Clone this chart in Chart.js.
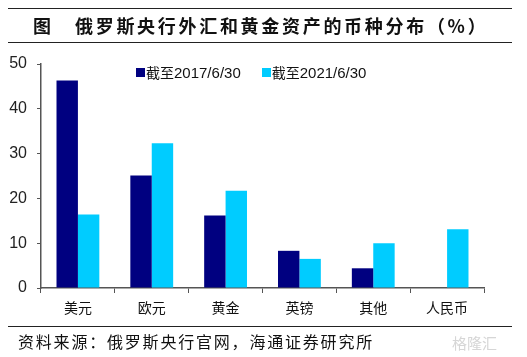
<!DOCTYPE html>
<html><head><meta charset="utf-8">
<script src="https://cdn.jsdelivr.net/npm/chart.js@4/dist/chart.umd.min.js"></script>
<style>
html,body{margin:0;padding:0;background:#fff;}
#wrap{position:relative;width:527px;height:357px;overflow:hidden;font-family:"Noto Sans CJK SC","Liberation Sans",sans-serif;}
canvas{position:absolute;left:0;top:0;}
.hl{position:absolute;left:8px;width:504px;height:0;border-top:1.5px solid #222;}
#t1{position:absolute;left:33px;top:12px;font-size:18px;font-weight:bold;color:#111;line-height:26px;}
#t2{position:absolute;left:75px;top:12px;font-size:18px;font-weight:bold;color:#111;letter-spacing:2.7px;line-height:26px;white-space:nowrap;}
#src{position:absolute;left:18px;top:330px;font-size:16px;color:#111;letter-spacing:1.8px;line-height:22px;white-space:nowrap;}
#wm{position:absolute;left:452px;top:332px;font-size:15px;color:#d6d6d6;white-space:nowrap;}
#legend{position:absolute;left:136px;top:63px;font-size:15px;color:#111;white-space:nowrap;line-height:18px;}
#legend span.it{display:inline-block;margin-right:21px;}
#legend i{display:inline-block;width:9px;height:9px;margin-right:1px;vertical-align:1px;}
#legend .cn{font-family:"Noto Sans CJK SC";font-size:14px;}
#legend .num{font-family:"Liberation Sans";}
</style></head>
<body>
<div id="wrap">
<canvas id="c" width="527" height="357"></canvas>
<div class="hl" style="top:8px"></div>
<div class="hl" style="top:42px"></div>
<div id="t1">图</div>
<div id="t2">俄罗斯央行外汇和黄金资产的币种分布（%）</div>
<div id="legend"></div>
<div class="hl" style="top:326px"></div>
<div id="src">资料来源：俄罗斯央行官网，海通证券研究所</div>
<div id="wm">格隆汇</div>
</div>
<script>
const categories = ["美元","欧元","黄金","英镑","其他","人民币"];
const series2017 = [46.3, 25.1, 16.2, 8.3, 4.4, 0];
const series2021 = [16.4, 32.3, 21.7, 6.5, 10.0, 13.1];
const seriesLabels = ["截至2017/6/30","截至2021/6/30"];
const seriesColors = ["#000080","#00CCFF"];
const yTicks = [0,10,20,30,40,50];

// HTML legend from dataset labels
const lg = document.getElementById('legend');
seriesLabels.forEach((lab,i)=>{
  const m = lab.match(/^(\D+)(.*)$/);
  const s = document.createElement('span'); s.className='it';
  s.innerHTML = '<i style="background:'+seriesColors[i]+'"></i><span class="cn">'+m[1]+'</span><span class="num">'+m[2]+'</span>';
  lg.appendChild(s);
});

new Chart(document.getElementById('c'), {
  type: 'bar',
  data: {
    labels: categories,
    datasets: [
      {label: seriesLabels[0], data: series2017, backgroundColor: seriesColors[0], barPercentage: 1, categoryPercentage: 0.58},
      {label: seriesLabels[1], data: series2021, backgroundColor: seriesColors[1], barPercentage: 1, categoryPercentage: 0.58}
    ]
  },
  options: {
    responsive: false,
    animation: false,
    devicePixelRatio: 1,
    layout: {padding: {top: 64, right: 43, left: 0, bottom: 0}},
    plugins: {legend: {display: false}, tooltip: {enabled: false}, title: {display: false}},
    scales: {
      x: {
        grid: {display: true, drawOnChartArea: false, drawTicks: true, tickLength: 5, color: '#555', offset: true},
        border: {display: true, color: '#555', width: 1.5},
        ticks: {color: '#111', font: {family: '"Noto Sans CJK SC"', size: 14}, padding: 6, maxRotation: 0},
        afterFit: s => { s.height = 357 - 288; }
      },
      y: {
        min: 0, max: 50,
        afterBuildTicks: s => { s.ticks = yTicks.map(v => ({value: v})); },
        grid: {display: true, drawOnChartArea: false, drawTicks: true, tickLength: 4, color: '#555'},
        border: {display: true, color: '#555', width: 1.5},
        ticks: {color: '#222', font: {family: '"Liberation Sans"', size: 16}, padding: 10},
        afterFit: s => { s.width = 41; }
      }
    }
  }
});
</script>
</body></html>
